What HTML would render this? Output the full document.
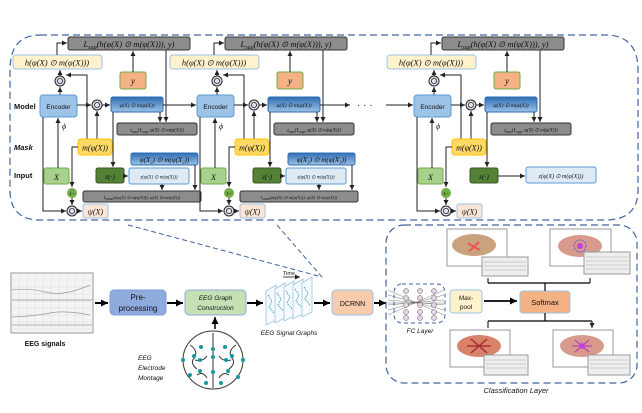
<!DOCTYPE html>
<html><head><meta charset="utf-8"><style>
html,body{margin:0;padding:0;background:#fff;}
svg{display:block;}
.m{font-family:"Liberation Serif",serif;font-style:italic;fill:#111;}
.s{font-family:"Liberation Sans",sans-serif;fill:#111;}
</style></head><body>
<svg width="642" height="413" viewBox="0 0 642 413" xmlns="http://www.w3.org/2000/svg">
<defs>
<marker id="a" markerWidth="6" markerHeight="6" refX="5" refY="3" orient="auto" markerUnits="userSpaceOnUse"><path d="M0,0.5 L5,3 L0,5.5z" fill="#222"/></marker>
<marker id="b" markerWidth="8" markerHeight="8" refX="7" refY="4" orient="auto" markerUnits="userSpaceOnUse"><path d="M0,0.5 L7,4 L0,7.5z" fill="#000"/></marker>
<linearGradient id="db" x1="0" y1="0" x2="0" y2="1"><stop offset="0" stop-color="#2e6db4"/><stop offset="1" stop-color="#9dc3e6"/></linearGradient>
<g id="odot"><circle r="5" fill="#dfe3f0" stroke="#222" stroke-width="1"/><circle r="2.6" fill="none" stroke="#222" stroke-width="0.8"/></g>
<g id="blk" stroke-width="1" fill="none">
 <!-- loss box -->
 <rect x="68" y="37" width="122" height="13" rx="2" fill="#8c8c8c" stroke="#333"/>
 <text x="129" y="47" class="m" font-size="8.5" text-anchor="middle">L<tspan font-size="6" dy="2">sup</tspan><tspan dy="-2">(h(φ(X) ⊙ m(φ(X))), y)</tspan></text>
 <!-- h box -->
 <rect x="13" y="55" width="89" height="14" rx="3" fill="#fff2cc" stroke="#9dc3e6"/>
 <text x="57" y="65.5" class="m" font-size="8.5" text-anchor="middle">h(φ(X) ⊙ m(φ(X)))</text>
 <path d="M57,55 V43 H67" stroke="#222" marker-end="url(#a)"/>
 <use href="#odot" x="60" y="81"/>
 <path d="M60,76 V70" stroke="#222" marker-end="url(#a)"/>
 <path d="M60,95 V87" stroke="#222" marker-end="url(#a)"/>
 <path d="M87,139 V75 H66" stroke="#222" marker-end="url(#a)"/>
 <!-- y -->
 <rect x="120" y="72" width="26" height="17" rx="2" fill="#f4b183" stroke="#70ad47"/>
 <text x="133" y="84" class="m" font-size="9" text-anchor="middle">y</text>
 <path d="M133,72 V51" stroke="#222" marker-end="url(#a)"/>
 <!-- encoder -->
 <rect x="40" y="95" width="37" height="22" rx="3" fill="#9dc3e6" stroke="#5b9bd5"/>
 <text x="58.5" y="109" class="s" font-size="6.5" text-anchor="middle">Encoder</text>
 <path d="M77,105 H91" stroke="#222" marker-end="url(#a)"/>
 <use href="#odot" x="97" y="105"/>
 <path d="M102,105 H110" stroke="#222" marker-end="url(#a)"/>
 <path d="M97,139 V111" stroke="#222" marker-end="url(#a)"/>
 <rect x="111" y="97" width="52" height="15" rx="2" fill="url(#db)" stroke="#2e6db4"/>
 <text x="137" y="107" class="m" font-size="5.5" text-anchor="middle">φ(X) ⊙ m(φ(X))</text>
 <path d="M113,112 V167" stroke="#222" marker-end="url(#a)"/>
 <path d="M160,112 V122" stroke="#222" marker-end="url(#a)"/>
 <path d="M166,50 V122" stroke="#222" marker-end="url(#a)"/>
 <!-- aux gray -->
 <rect x="117" y="123" width="80" height="12" rx="2" fill="#8c8c8c" stroke="#333"/>
 <text x="157" y="131.5" class="m" font-size="5" text-anchor="middle">z<tspan font-size="4" dy="1.5">aux</tspan><tspan dy="-1.5">(L</tspan><tspan font-size="4" dy="1.5">sup</tspan><tspan dy="-1.5">, φ(X) ⊙ m(φ(X)))</tspan></text>
 <!-- phi -->
 <text x="62" y="129" class="m" font-size="8">ϕ</text>
 <!-- m box -->
 <rect x="78" y="139" width="34" height="16" rx="3" fill="#ffd966" stroke="#ffc000"/>
 <text x="95" y="150.5" class="m" font-size="8" text-anchor="middle">m(φ(X))</text>
 <path d="M78,147 H72 V187" stroke="#222" marker-end="url(#a)"/>
 <!-- X -->
 <rect x="44" y="168" width="25" height="16" rx="2" fill="#a9d18e" stroke="#70ad47"/>
 <text x="56.5" y="180" class="m" font-size="8.5" text-anchor="middle">X</text>
 <path d="M58,168 V118" stroke="#222" marker-end="url(#a)"/>
 <!-- z -->
 <rect x="96" y="168" width="28" height="15" rx="2" fill="#548235" stroke="#385723"/>
 <text x="110" y="179" class="m" font-size="7.5" text-anchor="middle">z(·)</text>
 <!-- 1- -->
 <circle cx="72" cy="193" r="5" fill="#70ad47"/>
 <text x="72" y="195" class="s" font-size="4.5" text-anchor="middle">1−</text>
 <path d="M72,198 V205" stroke="#222" marker-end="url(#a)"/>
 <use href="#odot" x="72" y="211"/>
 <path d="M43,117 V211 H66" stroke="#222" marker-end="url(#a)"/>
 <path d="M77,211 H82" stroke="#222" marker-end="url(#a)"/>
 <rect x="83" y="204" width="25" height="14" rx="2" fill="#fbe5d6" stroke="#9dc3e6"/>
 <text x="95.5" y="214.5" class="m" font-size="8" text-anchor="middle">ψ(X)</text>
</g>
<g id="mid" stroke-width="1" fill="none">
 <path d="M124,176 H128" stroke="#222" marker-end="url(#a)"/>
 <rect x="129" y="168" width="60" height="16" rx="2" fill="#deebf7" stroke="#5b9bd5"/>
 <text x="159" y="178.5" class="m" font-size="5" text-anchor="middle">z(φ(X) ⊙ m(φ(X)))</text>
 <rect x="131" y="153" width="67" height="12" rx="2" fill="url(#db)" stroke="#2e6db4"/>
 <text x="164.5" y="162" class="m" font-size="7" text-anchor="middle">φ(X₂) ⊙ m(φ(X₂))</text>
 <path d="M162,184 V190" stroke="#222" marker-end="url(#a)"/>
 <path d="M195,165 V190" stroke="#222" marker-end="url(#a)"/>
 <rect x="83" y="191" width="118" height="11" rx="2" fill="#8c8c8c" stroke="#333"/>
 <text x="142" y="199" class="m" font-size="4.5" text-anchor="middle">L<tspan dy="1">aux</tspan><tspan dy="-1">(z(φ(X) ⊙ m(φ(X))), φ(X) ⊙ m(φ(X)))</tspan></text>
</g>
</defs>

<!-- top dashed container -->
<path d="M40,35 H605 Q638,35 638,70 V190 Q638,220 605,220 H40 Q10,220 10,190 V70 Q10,35 40,35Z" fill="none" stroke="#41659e" stroke-width="1.2" stroke-dasharray="7,4"/>

<text x="14" y="109" class="s" font-size="7.5" font-weight="bold">Model</text>
<text x="14" y="150" class="s" font-size="7.5" font-weight="bold" font-style="italic">Mask</text>
<text x="14" y="178" class="s" font-size="7.5" font-weight="bold">Input</text>

<use href="#blk"/><use href="#mid"/>
<g transform="translate(157,0)"><use href="#blk"/><use href="#mid"/></g>
<g transform="translate(374,0)"><use href="#blk"/>
 <path d="M124,176 H151" stroke="#222" fill="none" marker-end="url(#a)"/>
 <rect x="152" y="167" width="70" height="16" rx="2" fill="#deebf7" stroke="#5b9bd5"/>
 <text x="187" y="178" class="m" font-size="6" text-anchor="middle">z(φ(X) ⊙ m(φ(X)))</text>
</g>
<path d="M163,105 H196" stroke="#222" fill="none" marker-end="url(#a)"/>
<path d="M320,105 H350" stroke="#222" fill="none" marker-end="url(#a)"/>
<text x="357" y="108" class="s" font-size="10">·  ·  ·</text>
<path d="M386,105 H413" stroke="#222" fill="none" marker-end="url(#a)"/>

<!-- zoom dashed lines -->
<path d="M128,225 L322,277 M277,225 L322,277" stroke="#41659e" stroke-width="1" stroke-dasharray="5,3" fill="none"/>

<!-- EEG signals -->
<rect x="11" y="273" width="82" height="60" fill="#f4f4f4" stroke="#999"/>
<g stroke="#ddd" stroke-width="0.5">
<path d="M11,280H93M11,287H93M11,294H93M11,301H93M11,308H93M11,315H93M11,322H93M11,329H93"/>
<path d="M19,273V333M27,273V333M35,273V333M43,273V333M51,273V333M59,273V333M67,273V333M75,273V333M83,273V333"/>
</g>
<path d="M12,290 Q30,288 45,292 T80,289 L90,285 M12,317 Q35,316 50,313 T90,315 M12,300 H92 M12,325 H92" stroke="#999" stroke-width="0.7" fill="none"/>
<text x="45" y="346" class="s" font-size="7" font-weight="bold" text-anchor="middle">EEG signals</text>
<path d="M95,303 H108" stroke="#000" stroke-width="2" marker-end="url(#b)"/>

<rect x="110" y="290" width="56" height="25" rx="4" fill="#8faadc" stroke="#7f9fd6"/>
<text x="138" y="300" class="s" font-size="8" text-anchor="middle">Pre-</text>
<text x="138" y="311" class="s" font-size="8" text-anchor="middle">processing</text>
<path d="M167,303 H183" stroke="#000" stroke-width="2" marker-end="url(#b)"/>

<rect x="185" y="290" width="61" height="25" rx="4" fill="#c5e0b4" stroke="#8faadc"/>
<text x="215.5" y="300" class="s" font-size="6.5" font-style="italic" text-anchor="middle">EEG Graph</text>
<text x="215.5" y="310" class="s" font-size="6.5" font-style="italic" text-anchor="middle">Construction</text>
<path d="M215,329 V317" stroke="#000" stroke-width="1.5" marker-end="url(#b)"/>

<!-- brain montage -->
<g stroke="#333" stroke-width="1" fill="#fff">
<ellipse cx="213" cy="360" rx="30" ry="29"/>
<path d="M213,333 V388 M190,345 q8,5 5,12 q-6,6 2,12 M236,345 q-8,5 -5,12 q6,6 -2,12 M197,375 q6,-4 10,3 M229,375 q-6,-4 -10,3 M195,360 q8,2 12,-4 M231,360 q-8,2 -12,-4" fill="none"/>
</g>
<g fill="#17999b">
<circle cx="201" cy="347" r="2"/><circle cx="225" cy="347" r="2"/><circle cx="213" cy="349" r="2"/><circle cx="194" cy="356" r="2"/><circle cx="232" cy="356" r="2"/><circle cx="213" cy="357" r="2"/><circle cx="200" cy="360" r="2"/><circle cx="226" cy="360" r="2"/><circle cx="243" cy="360" r="2"/><circle cx="183" cy="360" r="2"/><circle cx="200" cy="371" r="2"/><circle cx="213" cy="372" r="2"/><circle cx="228" cy="371" r="2"/><circle cx="190" cy="375" r="2"/><circle cx="238" cy="377" r="2"/><circle cx="206" cy="383" r="2"/><circle cx="221" cy="383" r="2"/>
</g>
<text x="138" y="360" class="s" font-size="6.5" font-style="italic">EEG</text>
<text x="138" y="370" class="s" font-size="6.5" font-style="italic">Electrode</text>
<text x="138" y="380" class="s" font-size="6.5" font-style="italic">Montage</text>

<path d="M247,303 H263" stroke="#000" stroke-width="2" marker-end="url(#b)"/>
<!-- graph stack -->
<g stroke="#9dc3e6" stroke-width="0.8" fill="#f7fbff">
<path d="M266,291 L276,285 L276,320 L266,325Z"/>
<path d="M275,289 L285,283 L285,318 L275,323Z"/>
<path d="M284,287 L294,281 L294,316 L284,321Z"/>
<path d="M293,285 L303,279 L303,314 L293,319Z"/>
<path d="M302,283 L312,277 L312,312 L302,317Z"/>
</g>
<path d="M268,295 l4,6 l-3,6 l5,6 M277,293 l4,6 l-3,6 l5,6 M286,291 l4,6 l-3,6 l5,6 M295,289 l4,6 l-3,6 l5,6 M304,287 l4,6 l-3,6 l5,6" stroke="#17999b" stroke-width="0.8" stroke-dasharray="1.5,1" fill="none"/>
<text x="283" y="275" class="s" font-size="5.5">Time</text>
<path d="M283,277 H300" stroke="#000" stroke-width="0.8" marker-end="url(#a)"/>
<text x="289" y="335" class="s" font-size="6.5" font-style="italic" text-anchor="middle">EEG Signal Graphs</text>
<path d="M314,303 H330" stroke="#000" stroke-width="2" marker-end="url(#b)"/>

<rect x="332" y="290" width="41" height="25" rx="4" fill="#f8cbad" stroke="#9dc3e6"/>
<text x="352.5" y="306" class="s" font-size="7" text-anchor="middle">DCRNN</text>
<path d="M374,303 H386" stroke="#000" stroke-width="2" marker-end="url(#b)"/>

<!-- classification box -->
<rect x="386" y="225" width="251" height="158" rx="18" fill="none" stroke="#41659e" stroke-width="1.2" stroke-dasharray="7,4"/>
<text x="516" y="393" class="s" font-size="7.5" font-style="italic" text-anchor="middle">Classification Layer</text>
<!-- FC -->
<rect x="394" y="284" width="51" height="39" rx="8" fill="none" stroke="#41659e" stroke-dasharray="4,3"/>
<g stroke="#555" stroke-width="0.4">
<path d="M388,290 L444,315 M388,315 L444,290 M388,300 L444,305 M388,305 L444,300 M388,295 L444,310 M388,310 L444,295 M388,303 L444,303"/>
</g>
<g fill="#e8d3ea" stroke="#555" stroke-width="0.5">
<circle cx="406" cy="291" r="2.5"/><circle cx="406" cy="298" r="2.5"/><circle cx="406" cy="305" r="2.5"/><circle cx="406" cy="312" r="2.5"/><circle cx="406" cy="318" r="2.5"/>
<circle cx="420" cy="291" r="2.5"/><circle cx="420" cy="298" r="2.5"/><circle cx="420" cy="305" r="2.5"/><circle cx="420" cy="312" r="2.5"/><circle cx="420" cy="318" r="2.5"/>
<circle cx="434" cy="291" r="2.5"/><circle cx="434" cy="298" r="2.5"/><circle cx="434" cy="305" r="2.5"/><circle cx="434" cy="312" r="2.5"/><circle cx="434" cy="318" r="2.5"/>
</g>
<text x="420" y="333" class="s" font-size="6.5" font-style="italic" text-anchor="middle">FC Layer</text>

<rect x="450" y="290" width="32" height="23" rx="3" fill="#fff2cc" stroke="#9dc3e6"/>
<text x="466" y="300" class="s" font-size="6.5" font-style="italic" text-anchor="middle">Max-</text>
<text x="466" y="309" class="s" font-size="6.5" text-anchor="middle">pool</text>
<path d="M484,301 H517" stroke="#000" stroke-width="1.8" marker-end="url(#b)"/>
<rect x="520" y="291" width="50" height="22" rx="3" fill="#f4b183" stroke="#9dc3e6"/>
<text x="545" y="305" class="s" font-size="7.5" text-anchor="middle">Softmax</text>
<path d="M545,291 V283 M488,283 H590 M545,313 V321 M488,321 H592" stroke="#000" stroke-width="1.2" fill="none"/>
<path d="M488,283 V278 M590,283 V278 M488,321 V328 M592,321 V328" stroke="#000" stroke-width="1" marker-end="url(#a)"/>

<!-- brain images -->
<g>
<rect x="447" y="229" width="60" height="37" fill="#fff" stroke="#999"/>
<ellipse cx="474" cy="245" rx="22" ry="11" fill="#c9a27e"/>
<path d="M474,247 l-6,-4 M474,247 l5,-5 M474,247 l-5,4 M474,247 l6,3" stroke="#ef5350" stroke-width="2"/>
<rect x="482" y="257" width="46" height="19" fill="#eee" stroke="#999"/>
<path d="M484,262H526M484,266H526M484,270H526" stroke="#aaa" stroke-width="0.5"/>

<rect x="550" y="229" width="61" height="37" fill="#fff" stroke="#999"/>
<ellipse cx="580" cy="246" rx="22" ry="11" fill="#d89a8c"/>
<circle cx="580" cy="246" r="6" fill="none" stroke="#6a5acd" stroke-dasharray="2,1"/><circle cx="580" cy="246" r="3" fill="#c040e0"/>
<rect x="584" y="252" width="46" height="22" fill="#eee" stroke="#999"/>
<path d="M586,257H628M586,261H628M586,265H628M586,269H628" stroke="#aaa" stroke-width="0.5"/>

<rect x="450" y="330" width="60" height="37" fill="#fff" stroke="#999"/>
<ellipse cx="479" cy="346" rx="22" ry="11" fill="#d9826a"/>
<path d="M479,346 l-12,0 M479,346 l12,0 M479,346 l-8,-7 M479,346 l8,-7 M479,346 l-8,7 M479,346 l8,7" stroke="#a33" stroke-width="1.5"/>
<rect x="484" y="355" width="44" height="20" fill="#eee" stroke="#999"/>
<path d="M486,360H526M486,364H526M486,368H526" stroke="#aaa" stroke-width="0.5"/>

<rect x="553" y="330" width="60" height="37" fill="#fff" stroke="#999"/>
<ellipse cx="582" cy="346" rx="22" ry="11" fill="#d89a8c"/>
<path d="M582,346 l-10,0 M582,346 l10,0 M582,346 l-7,-6 M582,346 l7,-6 M582,346 l-7,6 M582,346 l7,6" stroke="#b030c0" stroke-width="1"/><circle cx="582" cy="346" r="3" fill="#c040e0"/>
<rect x="588" y="355" width="42" height="20" fill="#eee" stroke="#999"/>
<path d="M590,360H628M590,364H628M590,368H628" stroke="#aaa" stroke-width="0.5"/>
</g>
</svg>
</body></html>
